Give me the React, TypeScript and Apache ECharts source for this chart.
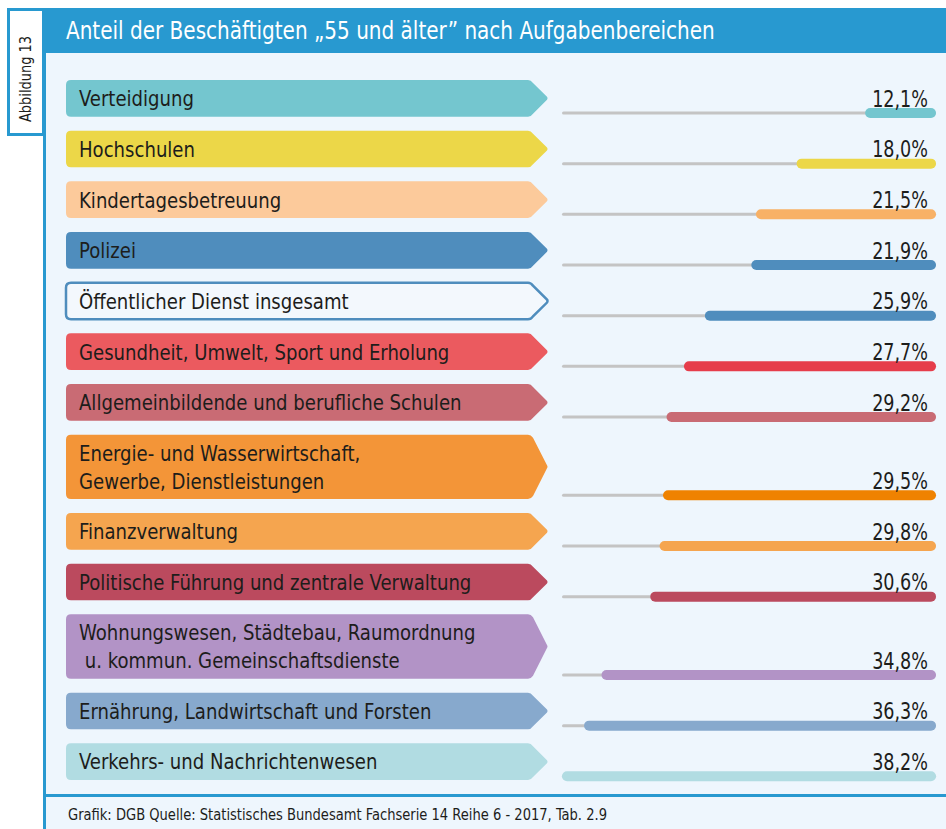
import React, { useEffect, useRef } from "react";
import * as echarts from "echarts";

const TITLE = "Anteil der Beschäftigten „55 und älter” nach Aufgabenbereichen";
const FIGURE_LABEL = "Abbildung 13";
const FOOTER = "Grafik: DGB Quelle: Statistisches Bundesamt Fachserie 14 Reihe 6 - 2017, Tab. 2.9";

const categories = [
  "Verteidigung",
  "Hochschulen",
  "Kindertagesbetreuung",
  "Polizei",
  "Öffentlicher Dienst insgesamt",
  "Gesundheit, Umwelt, Sport und Erholung",
  "Allgemeinbildende und berufliche Schulen",
  "Energie- und Wasserwirtschaft,\nGewerbe, Dienstleistungen",
  "Finanzverwaltung",
  "Politische Führung und zentrale Verwaltung",
  "Wohnungswesen, Städtebau, Raumordnung\n u. kommun. Gemeinschaftsdienste",
  "Ernährung, Landwirtschaft und Forsten",
  "Verkehrs- und Nachrichtenwesen",
];

const values = [12.1, 18.0, 21.5, 21.9, 25.9, 27.7, 29.2, 29.5, 29.8, 30.6, 34.8, 36.3, 38.2];

const labelColors = [
  "#74c6cf", "#ecd748", "#fcca9b", "#4f8dbd", "#f3f8fd", "#eb5a5f", "#c96b74",
  "#f39538", "#f5a54f", "#bb4a5e", "#b293c6", "#87a9cd", "#b1dce2",
];
const barColors = [
  "#74c6cf", "#ecd748", "#f8b166", "#4f8dbd", "#4f8dbd", "#e63d4b", "#c96b74",
  "#ef8200", "#f5a54f", "#bb4a5e", "#b293c6", "#87a9cd", "#b1dce2",
];
const outlinedRow = 4;

const AXIS_MIN = 6;
const AXIS_MAX = 38.2;

const FONT = "'DejaVu Sans Condensed', 'DejaVu Sans', sans-serif";
const BLUE = "#2899d0";
const BG = "#eef6fd";
const INK = "#1d1d1b";

const EXTRA_LINE = 0.545;
const rowHeights = categories.map((c) => 1 + EXTRA_LINE * (c.split("\n").length - 1));
const rowStarts: number[] = [];
rowHeights.reduce((acc, h) => {
  rowStarts.push(acc);
  return acc + h;
}, 0);
const TOTAL_ROWS = rowHeights.reduce((a, b) => a + b, 0);

const fmt = (v: number) => v.toFixed(1).replace(".", ",") + "%";

function arrowPath(x0: number, x1: number, xt: number, t: number, b: number) {
  const r = 5;
  const m = (t + b) / 2;
  return [
    `M ${x0 + r} ${t}`,
    `L ${x1 - 3} ${t}`,
    `Q ${x1} ${t} ${x1 + 2} ${t + 3}`,
    `L ${xt - 1} ${m - 1.5}`,
    `Q ${xt} ${m} ${xt - 1} ${m + 1.5}`,
    `L ${x1 + 2} ${b - 3}`,
    `Q ${x1} ${b} ${x1 - 3} ${b}`,
    `L ${x0 + r} ${b}`,
    `Q ${x0} ${b} ${x0} ${b - r}`,
    `L ${x0} ${t + r}`,
    `Q ${x0} ${t} ${x0 + r} ${t}`,
    "Z",
  ].join(" ");
}

export default function App() {
  const ref = useRef<HTMLDivElement>(null);

  useEffect(() => {
    if (!ref.current) return;
    const chart = echarts.init(ref.current, null, { renderer: "svg" });

    const data = values.map((v, i) => [v, rowStarts[i], rowStarts[i] + rowHeights[i]]);

    const option: any = {
      animation: false,
      backgroundColor: "#ffffff",
      grid: { left: 562, right: 10, top: 73, bottom: 42 },
      xAxis: { type: "value", inverse: true, min: AXIS_MIN, max: AXIS_MAX, show: false },
      yAxis: { type: "value", inverse: true, min: 0, max: TOTAL_ROWS, show: false },
      graphic: [
        { type: "rect", shape: { x: 46, y: 53, width: 900, height: 776 }, style: { fill: BG }, z: -10 },
        { type: "rect", shape: { x: 43, y: 8, width: 903, height: 45 }, style: { fill: BLUE }, z: -9 },
        { type: "rect", shape: { x: 43, y: 8, width: 3, height: 821 }, style: { fill: BLUE }, z: -9 },
        { type: "rect", shape: { x: 46, y: 794, width: 900, height: 3 }, style: { fill: BLUE }, z: -9 },
        {
          type: "rect",
          shape: { x: 8.5, y: 9.5, width: 35, height: 125 },
          style: { fill: "#ffffff", stroke: BLUE, lineWidth: 3 },
          z: -8,
        },
        {
          type: "text",
          x: 26,
          y: 79,
          rotation: Math.PI / 2,
          scaleX: 0.9,
          style: {
            text: FIGURE_LABEL,
            fontFamily: FONT,
            fontSize: 16,
            fill: INK,
            align: "center",
            verticalAlign: "middle",
          },
          z: -7,
        },
        {
          type: "text",
          x: 66,
          y: 31,
          scaleX: 0.89,
          style: {
            text: TITLE,
            fontFamily: FONT,
            fontSize: 25,
            fill: "#ffffff",
            align: "left",
            verticalAlign: "middle",
          },
          z: -7,
        },
        {
          type: "text",
          x: 68,
          y: 815,
          scaleX: 0.91,
          style: {
            text: FOOTER,
            fontFamily: FONT,
            fontSize: 16,
            fill: INK,
            align: "left",
            verticalAlign: "middle",
          },
          z: -7,
        },
      ],
      series: [
        {
          type: "custom",
          name: "labels",
          data,
          encode: { x: 0, y: 1 },
          renderItem: (params: any, api: any) => {
            const i = params.dataIndex;
            const t = api.coord([AXIS_MIN, api.value(1)])[1] + 7;
            const b = api.coord([AXIS_MIN, api.value(2)])[1] - 7;
            const outlined = i === outlinedRow;
            return {
              type: "group",
              children: [
                {
                  type: "path",
                  shape: { pathData: arrowPath(66, 531, 548, t, b) },
                  style: outlined
                    ? { fill: labelColors[i], stroke: "#4f8dbd", lineWidth: 2.5 }
                    : { fill: labelColors[i] },
                },
                {
                  type: "text",
                  x: 79,
                  y: (t + b) / 2,
                  scaleX: 0.914,
                  style: {
                    text: categories[i],
                    fontFamily: FONT,
                    fontSize: 22,
                    lineHeight: 28,
                    fill: INK,
                    align: "left",
                    verticalAlign: "middle",
                  },
                },
              ],
            };
          },
        },
        {
          type: "custom",
          name: "bars",
          data,
          encode: { x: 0, y: 1 },
          renderItem: (params: any, api: any) => {
            const i = params.dataIndex;
            const b = api.coord([AXIS_MIN, api.value(2)])[1] - 7;
            const yBar = b - 3.7;
            const xRight = api.coord([AXIS_MIN, 0])[0];
            const xLeft = api.coord([AXIS_MAX, 0])[0];
            const xStart = api.coord([api.value(0), 0])[0];
            return {
              type: "group",
              children: [
                {
                  type: "line",
                  shape: { x1: xLeft + 1.5, y1: yBar, x2: xRight - 1.5, y2: yBar },
                  style: { stroke: "#c4c4c4", lineWidth: 3, lineCap: "round" },
                },
                {
                  type: "line",
                  shape: { x1: xStart + 5, y1: yBar, x2: xRight - 5, y2: yBar },
                  style: { stroke: barColors[i], lineWidth: 10, lineCap: "round" },
                },
                {
                  type: "text",
                  x: xRight - 8,
                  y: yBar - 14.5,
                  scaleX: 0.85,
                  style: {
                    text: fmt(api.value(0)),
                    fontFamily: FONT,
                    fontSize: 23,
                    fill: INK,
                    align: "right",
                    verticalAlign: "middle",
                  },
                },
              ],
            };
          },
        },
      ],
    };

    chart.setOption(option);
    return () => chart.dispose();
  }, []);

  return (
    <div
      ref={ref}
      style={{ position: "absolute", left: 0, top: 0, width: 946, height: 829 }}
    />
  );
}
